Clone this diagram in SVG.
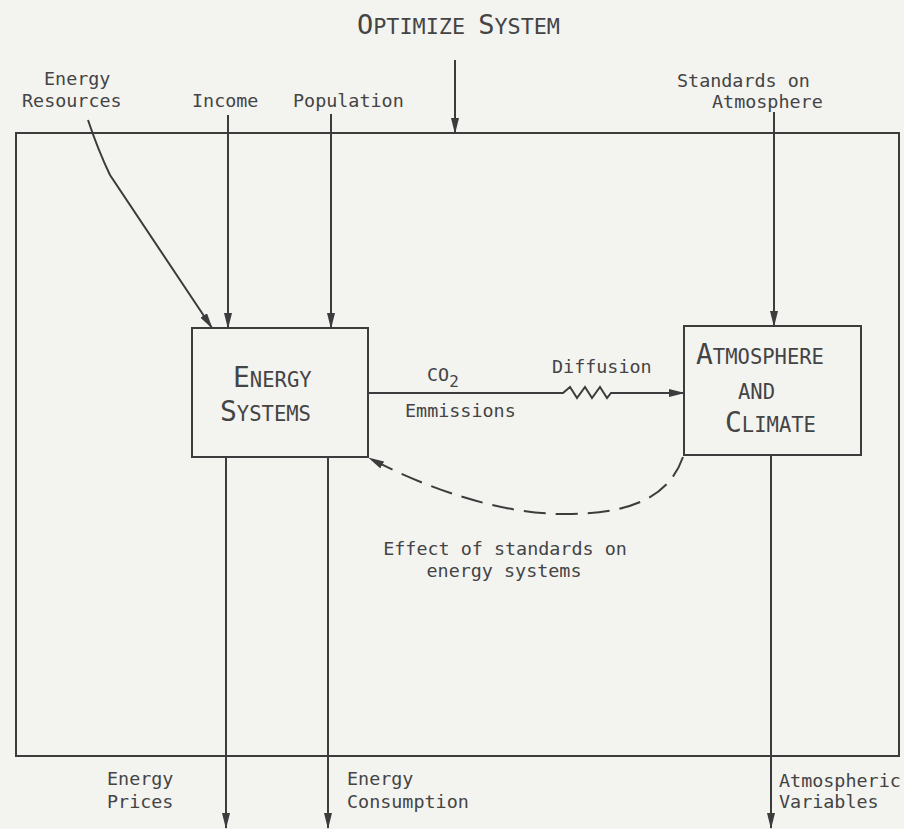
<svg xmlns="http://www.w3.org/2000/svg" width="904" height="829" viewBox="0 0 904 829">
  <style>
    .bg { fill: #f3f3f0; }
    .frame, .box { fill: none; stroke: #3c3c3c; stroke-width: 2; }
    .ln { fill: none; stroke: #3c3c3c; stroke-width: 2; }
    .dash { fill: none; stroke: #3c3c3c; stroke-width: 2; stroke-dasharray: 22 10; }
    text { font-family: "DejaVu Sans Mono", "Liberation Mono", monospace; fill: #444; }
    .lbl { font-size: 18.4px; }
    .big { font-size: 28px; }
    .sm { font-size: 20.5px; }
  </style>
  <defs>
    <marker id="ah" markerUnits="userSpaceOnUse" markerWidth="16" markerHeight="8" refX="15" refY="4" orient="auto">
      <path d="M0,0 L16,4 L0,8 z" fill="#3c3c3c"/>
    </marker>
  </defs>
  <rect class="bg" x="0" y="0" width="904" height="829"/>

  <g id="title">
    <text x="357" y="34" textLength="203" lengthAdjust="spacingAndGlyphs"><tspan font-size="26">O</tspan><tspan font-size="21">PTIMIZE </tspan><tspan font-size="26">S</tspan><tspan font-size="21">YSTEM</tspan></text>
  </g>

  <g id="system-boundary">
    <rect class="frame" x="16" y="133" width="883" height="623"/>
  </g>

  <g id="energy-systems">
    <rect class="box" x="192" y="328" width="176" height="129"/>
    <text x="233" y="387"><tspan class="big">E</tspan><tspan class="sm">NERGY</tspan></text>
    <text x="220" y="421"><tspan class="big">S</tspan><tspan class="sm">YSTEMS</tspan></text>
  </g>

  <g id="atmosphere-climate">
    <rect class="box" x="684" y="326" width="177" height="129"/>
    <text x="696" y="364"><tspan class="big">A</tspan><tspan class="sm">TMOSPHERE</tspan></text>
    <text x="738" y="399" class="sm">AND</text>
    <text x="725" y="432"><tspan class="big">C</tspan><tspan class="sm">LIMATE</tspan></text>
  </g>

  <g id="connectors">
    <line class="ln" x1="455" y1="60" x2="455" y2="133" marker-end="url(#ah)"/>
    <path class="ln" d="M88,120 Q98,150 110,175 L212,328" marker-end="url(#ah)"/>
    <line class="ln" x1="228" y1="115" x2="228" y2="328" marker-end="url(#ah)"/>
    <line class="ln" x1="331" y1="114" x2="331" y2="328" marker-end="url(#ah)"/>
    <line class="ln" x1="774" y1="112" x2="774" y2="326" marker-end="url(#ah)"/>
    <path class="ln" d="M368,393 L563,393 L570,387 L577,398 L585,387 L592,398 L600,387 L607,398 L611,393 L684,393" marker-end="url(#ah)"/>
    <path class="dash" d="M683,457 C668,500 625,515 560,514 C500,513 430,490 369,458" marker-end="url(#ah)"/>
    <line class="ln" x1="226" y1="457" x2="226" y2="828" marker-end="url(#ah)"/>
    <line class="ln" x1="328" y1="457" x2="328" y2="828" marker-end="url(#ah)"/>
    <line class="ln" x1="771" y1="455" x2="771" y2="828" marker-end="url(#ah)"/>
  </g>

  <g id="labels" class="lbl">
    <text x="44" y="85">Energy</text>
    <text x="22" y="107">Resources</text>
    <text x="192" y="107">Income</text>
    <text x="293" y="107">Population</text>
    <text x="677" y="87">Standards on</text>
    <text x="712" y="108">Atmosphere</text>
    <text x="427" y="381">CO<tspan font-size="16" dy="6">2</tspan></text>
    <text x="552" y="373">Diffusion</text>
    <text x="405" y="417">Emmissions</text>
    <text x="505" y="555" text-anchor="middle">Effect of standards on</text>
    <text x="504" y="577" text-anchor="middle">energy systems</text>
    <text x="107" y="785">Energy</text>
    <text x="107" y="808">Prices</text>
    <text x="347" y="785">Energy</text>
    <text x="347" y="808">Consumption</text>
    <text x="779" y="787">Atmospheric</text>
    <text x="779" y="808">Variables</text>
  </g>
</svg>
